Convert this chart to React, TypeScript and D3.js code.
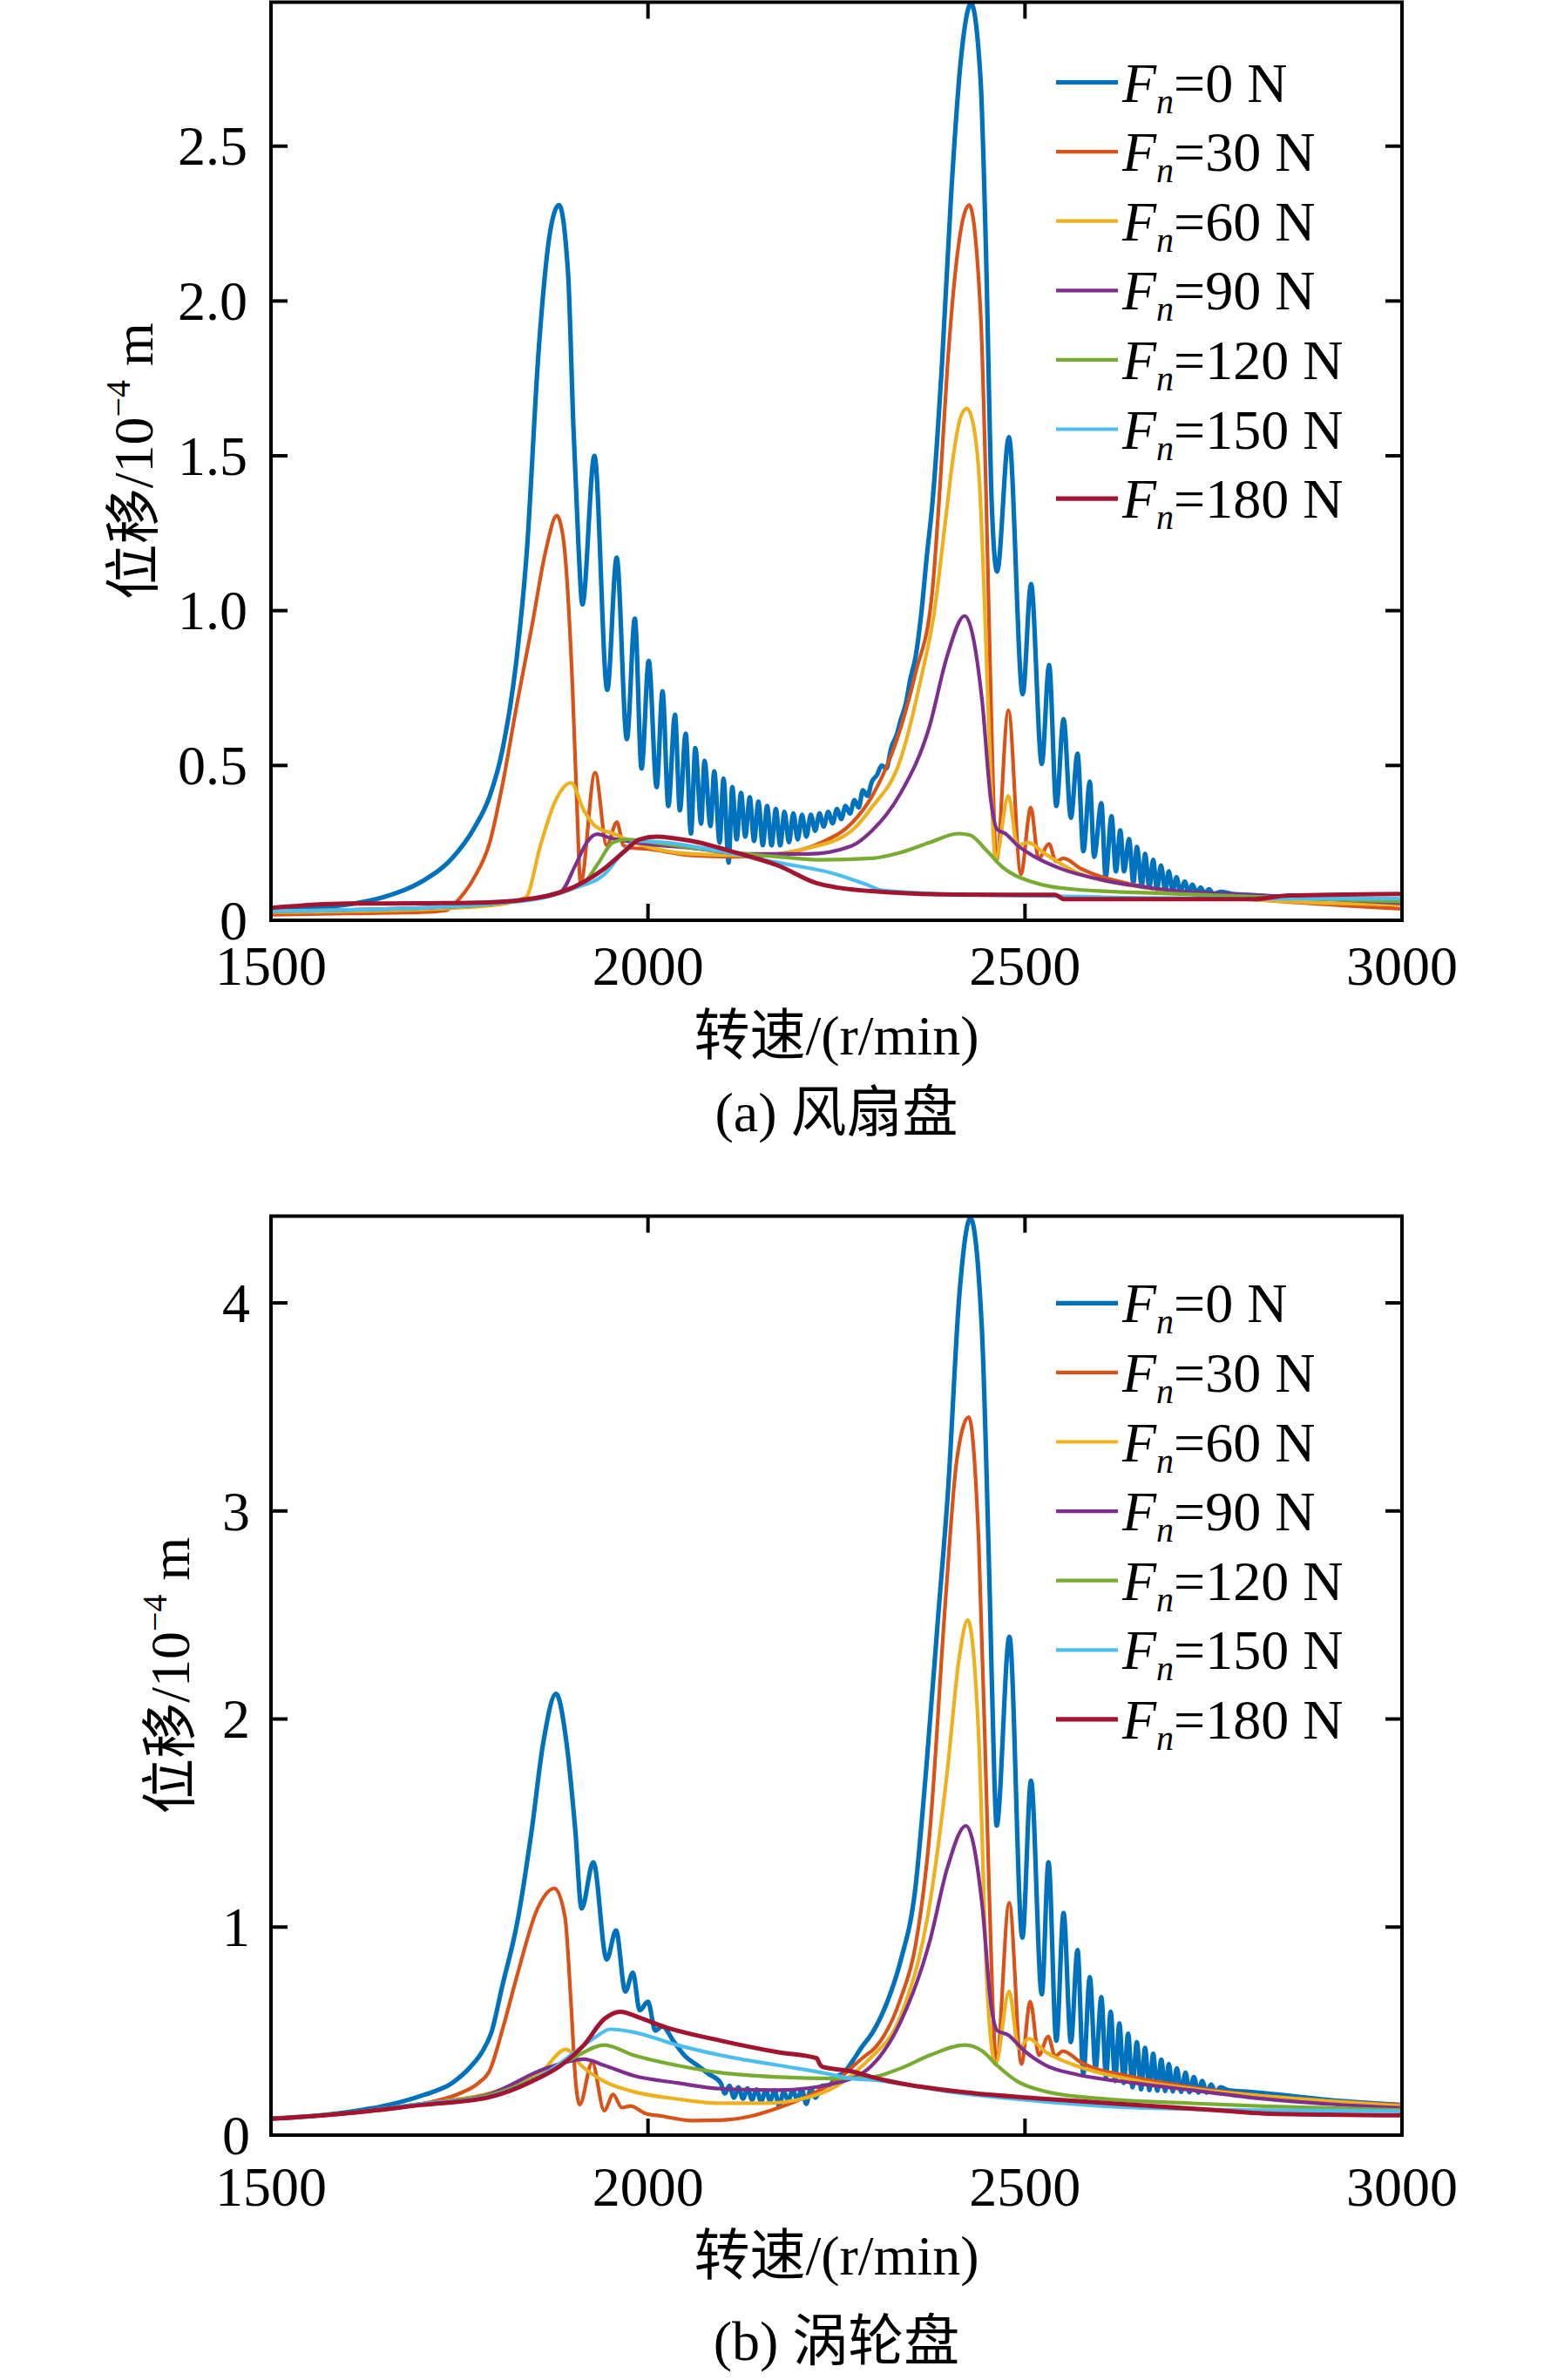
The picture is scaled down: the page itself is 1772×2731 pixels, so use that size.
import React from "react";
import * as d3 from "d3";

type Pt = [number, number];

// series order: Fn = 0, 30, 60, 90, 120, 150, 180 N
const forces = [0, 30, 60, 90, 120, 150, 180];
const colors = ["#0072BD", "#D95319", "#EDB120", "#7E2F8E", "#77AC30", "#4DBEEE", "#A2142F"];
const widths = [5.2, 4.2, 4.2, 4.2, 4.2, 4.2, 5];

const xTicks = [1500, 2000, 2500, 3000];
const fanYTicks = [0, 0.5, 1, 1.5, 2, 2.5];
const fanYTickLabels = ["0", "0.5", "1.0", "1.5", "2.0", "2.5"];
const turbYTicks = [0, 1, 2, 3, 4];
const turbYTickLabels = ["0", "1", "2", "3", "4"];

// ---------- (a) fan disk ----------
const fanN0: Pt[] = [
  [1500, 0.035], [1550, 0.04], [1600, 0.05], [1650, 0.075], [1700, 0.125], [1740, 0.2], [1770, 0.3],
  [1790, 0.4], [1807, 0.55], [1826, 0.85], [1839, 1.18], [1855, 1.84], [1870, 2.22],
  [1882, 2.31], [1894, 2.09], [1901, 1.6], [1908, 1.2], [1913, 1.02], [1929, 1.5], [1946, 0.744],
  [1958.5, 1.171], [1972, 0.585], [1982.6, 0.974], [1991.5, 0.49], [2001, 0.838], [2011.5, 0.43],
  [2019.3, 0.739], [2027, 0.369], [2035.8, 0.664], [2042.3, 0.355], [2050, 0.603], [2057, 0.28],
  [2062.8, 0.556], [2070.5, 0.312], [2075, 0.515], [2082.9, 0.304], [2087.9, 0.481], [2095, 0.251],
  [2100.2, 0.458], [2107, 0.186], [2111.8, 0.43], [2117.6, 0.261], [2123.4, 0.411], [2129, 0.27],
  [2135, 0.397], [2140.7, 0.256], [2146.5, 0.383], [2152.3, 0.242], [2158, 0.369], [2163.9, 0.242],
  [2169.6, 0.359], [2175.4, 0.242], [2181, 0.35], [2187, 0.252], [2192.8, 0.345], [2198.6, 0.261],
  [2204.3, 0.341], [2210, 0.27], [2216, 0.341], [2221.7, 0.289], [2227.5, 0.345], [2233, 0.303],
  [2239, 0.35], [2244.8, 0.313], [2250.6, 0.359], [2256.4, 0.327], [2262, 0.369], [2268, 0.345],
  [2273.7, 0.388], [2279.5, 0.364], [2285, 0.42], [2291, 0.402], [2297, 0.448], [2304, 0.47],
  [2310, 0.5], [2316, 0.49], [2323, 0.56], [2330, 0.6], [2335, 0.645], [2342, 0.7], [2348, 0.78],
  [2355, 0.852], [2362, 0.98], [2370, 1.18], [2377, 1.34], [2390, 1.8], [2402, 2.34], [2415, 2.78],
  [2428.6, 2.96], [2441, 2.72], [2448.3, 2.16], [2456, 1.34], [2463, 1.126], [2478.7, 1.56],
  [2497, 0.73], [2508, 1.086], [2522.3, 0.505], [2532, 0.824], [2541.6, 0.369], [2551.2, 0.65],
  [2560.9, 0.331], [2569.7, 0.538], [2577.5, 0.223], [2586, 0.448], [2591.7, 0.205], [2601.3, 0.378],
  [2607, 0.139], [2614.8, 0.336], [2620.6, 0.158], [2626.4, 0.29], [2631.4, 0.158], [2638, 0.262],
  [2643.8, 0.121], [2648.4, 0.237], [2655, 0.111], [2659.2, 0.214], [2665, 0.106], [2670, 0.195],
  [2675, 0.1], [2680.4, 0.177], [2686, 0.097], [2690.8, 0.158], [2696, 0.095], [2701, 0.139],
  [2706, 0.092], [2712, 0.125], [2717, 0.09], [2722, 0.115], [2728, 0.088], [2733, 0.106],
  [2738, 0.087], [2744, 0.1], [2750, 0.086], [2760, 0.092], [2775, 0.085], [2790, 0.083],
  [2820, 0.078], [2900, 0.07], [3000, 0.065],
];
const fanN30: Pt[] = [
  [1500, 0.018], [1600, 0.022], [1700, 0.026], [1732, 0.032], [1750, 0.07], [1770, 0.14], [1790, 0.25],
  [1808, 0.45], [1826.5, 0.702], [1845.8, 0.946], [1865, 1.2], [1879, 1.307], [1888, 1.227], [1899.8, 0.758],
  [1905.6, 0.383], [1910.6, 0.12], [1929.9, 0.477], [1945.3, 0.242], [1958.8, 0.317], [1967.3, 0.242],
  [1975, 0.235], [2000, 0.23], [2058, 0.209], [2115, 0.205], [2173, 0.214], [2231, 0.252],
  [2270, 0.313], [2297, 0.4], [2335, 0.62], [2355, 0.8], [2376.6, 1.05], [2387.3, 1.4],
  [2397.5, 1.8], [2407.5, 2.09], [2426, 2.31], [2441, 1.967], [2448.8, 1.34], [2453, 0.9],
  [2457, 0.5], [2462, 0.19], [2478, 0.678], [2494.6, 0.149], [2507.7, 0.364], [2518, 0.2],
  [2532, 0.247], [2541, 0.19], [2551, 0.2], [2574, 0.167], [2644, 0.115], [2720, 0.085],
  [2817, 0.065], [3000, 0.037],
];
const fanN60: Pt[] = [
  [1500, 0.026], [1700, 0.035], [1800, 0.05], [1838, 0.074], [1857.4, 0.242], [1876.7, 0.383],
  [1897.9, 0.444], [1915, 0.355], [1930.6, 0.303], [1953.8, 0.28], [1980.8, 0.252], [2058, 0.214],
  [2135, 0.209], [2212, 0.233], [2270, 0.289], [2297, 0.365], [2335, 0.52], [2362, 0.78],
  [2380, 1.0], [2395, 1.3], [2405, 1.5], [2414, 1.62], [2423, 1.653], [2433, 1.58], [2440, 1.4],
  [2446.7, 1.0], [2454, 0.5], [2461, 0.195], [2478, 0.402], [2490, 0.242], [2504, 0.251],
  [2527, 0.214], [2566, 0.158], [2644, 0.111], [2721, 0.087], [2817, 0.065], [3000, 0.05],
];
const fanN90: Pt[] = [
  [1500, 0.03], [1700, 0.04], [1800, 0.055], [1884, 0.092], [1903.6, 0.177], [1919, 0.252],
  [1932.6, 0.278], [1950, 0.266], [1980.8, 0.252], [2058, 0.233], [2135, 0.214], [2212, 0.214],
  [2270, 0.24], [2297, 0.289], [2335, 0.41], [2373.5, 0.627], [2396.6, 0.852], [2420, 0.983],
  [2443, 0.712], [2455, 0.383], [2463, 0.294], [2474, 0.28], [2490, 0.242], [2513, 0.205],
  [2547, 0.167], [2605, 0.129], [2682, 0.1], [2817, 0.08], [3000, 0.055],
];
const fanN120: Pt[] = [
  [1500, 0.03], [1700, 0.04], [1800, 0.055], [1903, 0.105], [1915, 0.12], [1934.5, 0.186],
  [1953.8, 0.252], [1973, 0.261], [2019, 0.247], [2096, 0.223], [2173.5, 0.205], [2231, 0.195],
  [2297, 0.2], [2335, 0.219], [2373.5, 0.251], [2412, 0.28], [2427, 0.275], [2450, 0.223],
  [2470, 0.172], [2508, 0.125], [2566, 0.1], [2682, 0.087], [2817, 0.075], [3000, 0.06],
];
const fanN150: Pt[] = [
  [1500, 0.03], [1700, 0.04], [1800, 0.055], [1865, 0.075], [1903, 0.105], [1942, 0.148],
  [1965, 0.214], [1984.6, 0.256], [2019, 0.252], [2096, 0.223], [2173.5, 0.186], [2250.6, 0.148],
  [2289, 0.116], [2310, 0.097], [2412, 0.083], [2543, 0.078], [2650, 0.072], [2817, 0.07],
  [3000, 0.07],
];
const fanN180: Pt[] = [
  [1500, 0.04], [1600, 0.054], [1700, 0.055], [1788, 0.058], [1865, 0.078], [1903.6, 0.11],
  [1942, 0.167], [1969, 0.223], [1988.5, 0.261], [2011.6, 0.27], [2058, 0.256], [2115.7, 0.219],
  [2173.5, 0.176], [2223.6, 0.12], [2250.6, 0.106], [2308, 0.092], [2412, 0.083], [2540, 0.082],
  [2552, 0.068], [2800, 0.068], [2850, 0.08], [3000, 0.085],
];

// ---------- (b) turbine disk ----------
const turbN0: Pt[] = [
  [1500, 0.08], [1550, 0.09], [1600, 0.11], [1650, 0.14], [1700, 0.19], [1740, 0.25], [1765, 0.33],
  [1780, 0.4], [1792, 0.49], [1807, 0.72], [1826.5, 1.02], [1845.8, 1.466], [1861, 1.884], [1878, 2.121],
  [1892, 1.884], [1903.6, 1.466], [1912, 1.089], [1927.5, 1.312], [1945.3, 0.844], [1957.6, 0.984],
  [1970, 0.69], [1980, 0.781], [1989, 0.6], [2000, 0.642], [2009.7, 0.502], [2019, 0.523],
  [2034.7, 0.447], [2050, 0.377], [2065.6, 0.335], [2081, 0.293], [2096.4, 0.251], [2102, 0.2],
  [2108, 0.237], [2114, 0.18], [2120, 0.23], [2126, 0.175], [2132, 0.225], [2138, 0.17],
  [2144, 0.22], [2150, 0.16], [2156, 0.215], [2162, 0.165], [2168, 0.215], [2174, 0.14],
  [2180, 0.21], [2186, 0.165], [2192, 0.215], [2198, 0.17], [2204, 0.22], [2210, 0.15],
  [2216, 0.225], [2222, 0.18], [2231, 0.237], [2240, 0.24], [2250, 0.28], [2260, 0.3],
  [2270, 0.349], [2285, 0.43], [2297, 0.488], [2316, 0.628], [2335, 0.837], [2354.6, 1.186],
  [2369, 1.76], [2385, 2.5], [2398, 3.1], [2413, 4.04], [2427.7, 4.407], [2442.5, 3.9],
  [2453.5, 2.57], [2459.5, 1.7], [2462.4, 1.487], [2479.4, 2.396], [2496.5, 0.949], [2508, 1.703],
  [2522.3, 0.677], [2531.2, 1.312], [2541.6, 0.454], [2551.2, 1.068], [2560.9, 0.447],
  [2569.7, 0.89], [2577.4, 0.293], [2586, 0.76], [2593.6, 0.32], [2601.3, 0.663], [2607.5, 0.279],
  [2613.7, 0.593], [2619.5, 0.26], [2625.2, 0.537], [2631, 0.251], [2636.8, 0.488], [2642.6, 0.23],
  [2648.4, 0.447], [2654, 0.22], [2659.2, 0.419], [2665, 0.216], [2670, 0.391], [2675.5, 0.214],
  [2680.8, 0.363], [2686, 0.212], [2690.8, 0.342], [2696, 0.21], [2701.5, 0.321], [2707, 0.208],
  [2713, 0.3], [2718, 0.206], [2724, 0.279], [2730, 0.205], [2735, 0.26], [2741, 0.204],
  [2747, 0.244], [2753, 0.203], [2759, 0.23], [2770, 0.215], [2790, 0.21], [2817, 0.202],
  [2900, 0.17], [3000, 0.145],
];
const turbN30: Pt[] = [
  [1500, 0.078], [1600, 0.105], [1700, 0.15], [1750, 0.2], [1775, 0.25], [1790, 0.31],
  [1808, 0.52], [1826.5, 0.768], [1853.5, 1.089], [1876, 1.186], [1890, 1.047], [1898, 0.628], [1903.6, 0.279],
  [1909.4, 0.146], [1926, 0.349], [1942, 0.118], [1953.8, 0.195], [1965.3, 0.132], [1977, 0.14],
  [1996, 0.105], [2019.3, 0.091], [2058, 0.07], [2096.4, 0.072], [2135, 0.09], [2173.5, 0.132],
  [2212, 0.188], [2250.6, 0.265], [2289, 0.384], [2297, 0.405], [2335, 0.656], [2354.6, 0.907],
  [2374, 1.466], [2394.6, 2.57], [2409.3, 3.237], [2425.5, 3.451], [2438.8, 2.836], [2450, 1.5],
  [2457, 0.65], [2462, 0.35], [2479.1, 1.117], [2495.3, 0.342], [2507, 0.642], [2518.5, 0.384],
  [2530.8, 0.474], [2540, 0.38], [2550.5, 0.404], [2574.4, 0.349], [2643.8, 0.279],
  [2720.8, 0.23], [2817, 0.188], [3000, 0.145],
];
const turbN60: Pt[] = [
  [1500, 0.078], [1600, 0.105], [1700, 0.15], [1788, 0.2], [1830, 0.25], [1857.4, 0.3],
  [1891.3, 0.412], [1911.4, 0.335], [1942, 0.258], [1980.8, 0.209], [2038.6, 0.174],
  [2096.4, 0.153], [2154.2, 0.153], [2212, 0.181], [2250.6, 0.237], [2289, 0.349], [2297, 0.377],
  [2335, 0.572], [2374, 1.117], [2397, 1.75], [2413, 2.3], [2424, 2.476], [2438.8, 1.9],
  [2450, 0.7], [2461, 0.34], [2479, 0.691], [2491.5, 0.419], [2505, 0.463], [2528, 0.398],
  [2566.6, 0.335], [2643.8, 0.265], [2721, 0.223], [2817, 0.188], [3000, 0.14],
];
const turbN90: Pt[] = [
  [1500, 0.078], [1600, 0.105], [1700, 0.15], [1788, 0.195], [1865, 0.321], [1915, 0.365],
  [1942, 0.335], [1980.8, 0.286], [2038.6, 0.251], [2096.4, 0.223], [2173.5, 0.216],
  [2250.6, 0.251], [2297, 0.335], [2335, 0.544], [2374, 0.935], [2397, 1.284], [2421.8, 1.487],
  [2443.3, 1.103], [2454.9, 0.628], [2463.3, 0.502], [2478, 0.481], [2497, 0.412], [2528, 0.335],
  [2566.6, 0.293], [2644, 0.251], [2721, 0.216], [2817, 0.174], [3000, 0.13],
];
const turbN120: Pt[] = [
  [1500, 0.078], [1600, 0.105], [1700, 0.15], [1788, 0.19], [1865, 0.3], [1903.6, 0.377],
  [1942, 0.433], [1980.8, 0.384], [2038.6, 0.335], [2096.4, 0.3], [2173.5, 0.279], [2250.6, 0.272],
  [2297, 0.279], [2335, 0.321], [2374, 0.384], [2420, 0.433], [2443, 0.405], [2463, 0.335],
  [2490, 0.258], [2528, 0.209], [2605, 0.174], [2721, 0.153], [2817, 0.139], [3000, 0.12],
];
const turbN150: Pt[] = [
  [1500, 0.078], [1600, 0.105], [1700, 0.15], [1788, 0.185], [1865, 0.3], [1903.6, 0.4],
  [1930, 0.47], [1950, 0.509], [1980.8, 0.495], [2038.6, 0.433], [2096.4, 0.384], [2173.5, 0.335],
  [2231, 0.3], [2270, 0.272], [2297, 0.265], [2412, 0.202], [2528, 0.16], [2644, 0.132],
  [2817, 0.12], [3000, 0.115],
];
const turbN180: Pt[] = [
  [1500, 0.078], [1600, 0.105], [1700, 0.145], [1788, 0.181], [1845.8, 0.258], [1884.4, 0.335],
  [1915, 0.433], [1942, 0.558], [1963.4, 0.593], [1988.5, 0.565], [2019.3, 0.523], [2096.4, 0.454],
  [2173.5, 0.398], [2223.6, 0.37], [2228, 0.34], [2231.3, 0.328], [2270, 0.307], [2297, 0.279],
  [2412, 0.209], [2528, 0.174], [2644, 0.146], [2759, 0.118], [2817, 0.104], [3000, 0.095],
];

const fanSeries = [fanN0, fanN30, fanN60, fanN90, fanN120, fanN150, fanN180];
const turbSeries = [turbN0, turbN30, turbN60, turbN90, turbN120, turbN150, turbN180];

const FONT = "'Liberation Serif', 'Times New Roman', 'Noto Sans CJK SC', serif";
const FS = 64;
const LEFT = 311;
const RIGHT = 1609;
const TICK = 19;

interface PanelProps {
  id: string;
  top: number;
  bottom: number;
  yMax: number;
  yTicks: number[];
  yTickLabels: string[];
  series: Pt[][];
  tickLabelY: number;
  yTickLabelX: number;
  yLabelX: number;
  xLabelY: number;
  captionY: number;
  caption: string;
  legendY0: number;
}

function Panel(p: PanelProps) {
  const x = d3.scaleLinear().domain([1500, 3000]).range([LEFT, RIGHT]);
  const y = d3.scaleLinear().domain([0, p.yMax]).range([p.bottom, p.top]);
  const line = d3
    .line<Pt>()
    .x((d) => x(d[0]))
    .y((d) => y(d[1]))
    .curve(d3.curveMonotoneX);
  const legendStep = 79.6;
  const cy = (p.top + p.bottom) / 2;

  return (
    <g fontFamily={FONT}>
      <defs>
        <clipPath id={p.id}>
          <rect x={LEFT} y={p.top} width={RIGHT - LEFT} height={p.bottom - p.top} />
        </clipPath>
      </defs>
      <g clipPath={`url(#${p.id})`}>
        {p.series.map((s, i) => (
          <path
            key={i}
            d={line(s) ?? ""}
            fill="none"
            stroke={colors[i]}
            strokeWidth={widths[i]}
            strokeLinejoin="round"
          />
        ))}
      </g>

      {/* axis box and ticks */}
      <rect x={LEFT} y={p.top} width={RIGHT - LEFT} height={p.bottom - p.top} fill="none" stroke="#000" strokeWidth={4} />
      {xTicks.map((t) => (
        <g key={t}>
          <line x1={x(t)} x2={x(t)} y1={p.bottom} y2={p.bottom - TICK} stroke="#000" strokeWidth={4} />
          <line x1={x(t)} x2={x(t)} y1={p.top} y2={p.top + TICK} stroke="#000" strokeWidth={4} />
          <text x={x(t)} y={p.tickLabelY} fontSize={FS} textAnchor="middle">
            {t}
          </text>
        </g>
      ))}
      {p.yTicks.map((t, i) => (
        <g key={t}>
          <line x1={LEFT} x2={LEFT + TICK} y1={y(t)} y2={y(t)} stroke="#000" strokeWidth={4} />
          <line x1={RIGHT} x2={RIGHT - TICK} y1={y(t)} y2={y(t)} stroke="#000" strokeWidth={4} />
          <text x={p.yTickLabelX} y={y(t)} dy="0.34em" fontSize={FS} textAnchor="end">
            {p.yTickLabels[i]}
          </text>
        </g>
      ))}

      {/* axis titles */}
      <text transform={`translate(${p.yLabelX},${cy}) rotate(-90)`} fontSize={FS} textAnchor="middle">
        位移/10<tspan fontSize={40} dy={-26}>−4</tspan><tspan dy={26}>{"\u00a0m"}</tspan>
      </text>
      <text x={(LEFT + RIGHT) / 2} y={p.xLabelY} fontSize={FS} textAnchor="middle">
        转速/(r/min)
      </text>
      <text x={(LEFT + RIGHT) / 2} y={p.captionY} fontSize={FS} textAnchor="middle">
        {p.caption}
      </text>

      {/* legend */}
      {forces.map((f, i) => {
        const ly = p.legendY0 + i * legendStep;
        return (
          <g key={f}>
            <line x1={1212} x2={1283} y1={ly} y2={ly} stroke={colors[i]} strokeWidth={i === 0 || i === 6 ? 5.2 : 4.2} />
            <text x={1288} y={ly + 22} fontSize={FS}>
              <tspan fontStyle="italic">F</tspan><tspan fontStyle="italic" fontSize={40} dy={13}>n</tspan><tspan dy={-13}>{`=${f} N`}</tspan>
            </text>
          </g>
        );
      })}
    </g>
  );
}

export default function App() {
  return (
    <div style={{ position: "absolute", left: 0, top: 0, background: "#fff" }}>
      <svg width={1772} height={2731} viewBox="0 0 1772 2731" style={{ display: "block" }}>
        <rect width={1772} height={2731} fill="#fff" />
        <Panel
          id="clipFan"
          top={2.5}
          bottom={1056}
          yMax={2.965}
          yTicks={fanYTicks}
          yTickLabels={fanYTickLabels}
          series={fanSeries}
          tickLabelY={1130}
          yTickLabelX={284}
          yLabelX={175}
          xLabelY={1210}
          captionY={1298}
          caption="(a) 风扇盘"
          legendY0={94.5}
        />
        <Panel
          id="clipTurb"
          top={1395.5}
          bottom={2450}
          yMax={4.417}
          yTicks={turbYTicks}
          yTickLabels={turbYTickLabels}
          series={turbSeries}
          tickLabelY={2531}
          yTickLabelX={287}
          yLabelX={217}
          xLabelY={2610}
          captionY={2708}
          caption="(b) 涡轮盘"
          legendY0={1495.3}
        />
      </svg>
    </div>
  );
}
